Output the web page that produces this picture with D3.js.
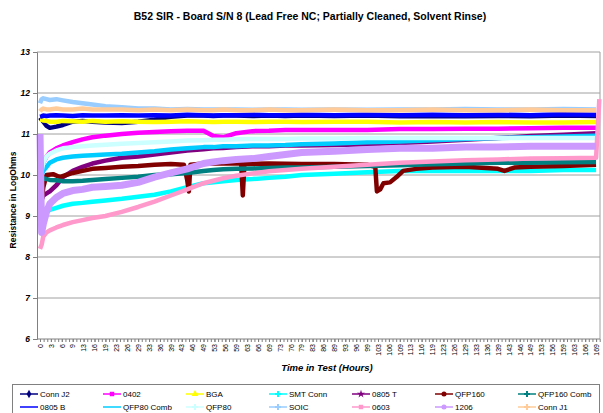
<!DOCTYPE html>
<html>
<head>
<meta charset="utf-8">
<script src="https://cdn.jsdelivr.net/npm/d3@7"></script>
<style>
body { margin: 0; background: #fff; }
text { font-family: "Liberation Sans", Arial, sans-serif; }
</style>
</head>
<body>
<script>
// hours shared by most series
var hours = [0, 0.5, 1, 2, 3, 5, 7, 10, 13, 16, 20, 25, 30, 35, 40, 45, 50, 53, 56, 60, 65, 70, 75, 80, 90, 100, 110, 120, 130, 140, 150, 160, 170];

var connJ2   = [11.4, 11.35, 11.3, 11.2, 11.15, 11.18, 11.22, 11.3, 11.32, 11.3, 11.28, 11.27, 11.3, 11.35, 11.42, 11.45, 11.45, 11.44, 11.45, 11.45, 11.44, 11.45, 11.44, 11.45, 11.44, 11.45, 11.43, 11.44, 11.43, 11.44, 11.43, 11.45, 11.44];
var s0402    = [10.1, 10.15, 10.3, 10.45, 10.55, 10.65, 10.72, 10.8, 10.87, 10.92, 10.96, 11.0, 11.03, 11.05, 11.07, 11.08, 11.08, 10.95, 10.92, 11.02, 11.07, 11.08, 11.1, 11.1, 11.1, 11.1, 11.12, 11.12, 11.13, 11.13, 11.14, 11.15, 11.15];
var bga      = [11.35, 11.35, 11.33, 11.32, 11.3, 11.3, 11.32, 11.31, 11.3, 11.32, 11.3, 11.31, 11.3, 11.29, 11.3, 11.31, 11.3, 11.29, 11.3, 11.3, 11.29, 11.3, 11.3, 11.29, 11.3, 11.3, 11.28, 11.29, 11.28, 11.29, 11.28, 11.28, 11.29];
var smtConn  = [9.6, 9.2, 9.05, 9.1, 9.15, 9.2, 9.25, 9.3, 9.32, 9.35, 9.38, 9.42, 9.47, 9.52, 9.6, 9.7, 9.8, 9.82, 9.85, 9.88, 9.9, 9.93, 9.96, 10.0, 10.03, 10.07, 10.1, 10.1, 10.1, 10.1, 10.1, 10.12, 10.12];
var s0805T   = [9.3, 9.4, 9.5, 9.55, 9.6, 9.75, 9.95, 10.1, 10.2, 10.28, 10.35, 10.42, 10.45, 10.5, 10.55, 10.6, 10.63, 10.65, 10.66, 10.68, 10.7, 10.7, 10.72, 10.72, 10.73, 10.75, 10.78, 10.82, 10.86, 10.9, 10.95, 10.98, 11.02];
var qfp160Comb = [10.0, 9.95, 9.92, 9.9, 9.88, 9.87, 9.85, 9.85, 9.86, 9.88, 9.9, 9.93, 9.96, 10.0, 10.02, 10.05, 10.1, 10.12, 10.14, 10.15, 10.16, 10.17, 10.18, 10.18, 10.2, 10.22, 10.24, 10.26, 10.28, 10.3, 10.3, 10.31, 10.32];
var s0805B   = [11.42, 11.43, 11.45, 11.44, 11.45, 11.46, 11.45, 11.44, 11.46, 11.45, 11.45, 11.46, 11.45, 11.46, 11.45, 11.47, 11.46, 11.45, 11.46, 11.46, 11.47, 11.46, 11.46, 11.47, 11.46, 11.47, 11.46, 11.47, 11.46, 11.47, 11.46, 11.48, 11.47];
var qfp80Comb = [9.9, 10.0, 10.1, 10.2, 10.3, 10.38, 10.42, 10.45, 10.47, 10.48, 10.5, 10.52, 10.55, 10.58, 10.62, 10.65, 10.68, 10.68, 10.7, 10.7, 10.72, 10.72, 10.73, 10.75, 10.77, 10.8, 10.82, 10.85, 10.88, 10.9, 10.92, 10.94, 10.96];
var qfp80    = [10.0, 10.1, 10.3, 10.45, 10.52, 10.6, 10.65, 10.68, 10.7, 10.72, 10.74, 10.76, 10.78, 10.8, 10.82, 10.84, 10.85, 10.86, 10.86, 10.87, 10.88, 10.88, 10.88, 10.89, 10.89, 10.9, 10.9, 10.9, 10.9, 10.9, 10.9, 10.9, 10.9];
var soic     = [11.75, 11.85, 11.87, 11.85, 11.83, 11.85, 11.82, 11.78, 11.75, 11.72, 11.68, 11.65, 11.62, 11.62, 11.6, 11.61, 11.6, 11.6, 11.6, 11.6, 11.59, 11.6, 11.6, 11.59, 11.6, 11.59, 11.6, 11.6, 11.61, 11.6, 11.6, 11.61, 11.6];
var s1206    = [11.0, 8.6, 8.8, 9.1, 9.3, 9.45, 9.55, 9.62, 9.65, 9.7, 9.72, 9.75, 9.82, 9.95, 10.05, 10.15, 10.28, 10.32, 10.35, 10.38, 10.4, 10.45, 10.5, 10.55, 10.58, 10.62, 10.65, 10.65, 10.68, 10.68, 10.7, 10.7, 10.7];
var connJ1   = [11.55, 11.6, 11.62, 11.6, 11.6, 11.62, 11.6, 11.6, 11.62, 11.6, 11.6, 11.6, 11.58, 11.6, 11.58, 11.6, 11.58, 11.58, 11.6, 11.58, 11.58, 11.6, 11.58, 11.58, 11.6, 11.58, 11.58, 11.6, 11.58, 11.58, 11.6, 11.58, 11.58];

// series with their own time points
var hours0603 = [0, 0.5, 1, 2, 3, 5, 7, 10, 13, 16, 20, 25, 30, 35, 40, 45, 50, 53, 56, 60, 65, 70, 75, 80, 90, 100, 110, 120, 130, 140, 150, 160, 170, 171];
var s0603     = [8.2, 8.3, 8.5, 8.6, 8.65, 8.72, 8.78, 8.85, 8.9, 8.95, 9.0, 9.1, 9.22, 9.35, 9.5, 9.65, 9.8, 9.86, 9.92, 9.98, 10.04, 10.09, 10.12, 10.15, 10.2, 10.25, 10.3, 10.33, 10.36, 10.38, 10.4, 10.41, 10.42, 11.85];

var hoursQfp160 = [0, 0.5, 1, 2, 4, 6, 8, 10, 13, 16, 20, 25, 30, 35, 40, 44, 45, 45.5, 46, 50, 55, 61.5, 62, 62.5, 70, 80, 90, 100, 102.5, 103, 104, 105, 107, 109, 111, 115, 120, 130, 140, 142, 145, 150, 160, 170];
var qfp160      = [9.3, 9.35, 9.7, 10.0, 10.02, 9.95, 10.0, 10.05, 10.1, 10.15, 10.17, 10.2, 10.22, 10.25, 10.27, 10.25, 9.88, 9.6, 10.25, 10.28, 10.28, 10.28, 9.5, 10.27, 10.28, 10.27, 10.27, 10.25, 10.2, 9.6, 9.65, 9.8, 9.82, 9.95, 10.1, 10.15, 10.18, 10.2, 10.15, 10.1, 10.18, 10.2, 10.22, 10.25];

var seriesNames  = ["Conn J2", "0402", "BGA", "SMT Conn", "0805 T", "QFP160", "QFP160 Comb", "0805 B", "QFP80 Comb", "QFP80", "SOIC", "0603", "1206", "Conn J1"];
var seriesColors = ["#000080", "#FF00FF", "#FFFF00", "#00FFFF", "#800080", "#800000", "#008080", "#0000FF", "#00CCFF", "#CCFFFF", "#99CCFF", "#FF99CC", "#CC99FF", "#FFCC99"];

var tickLabels = ["0", "3", "6", "9", "13", "16", "19", "23", "26", "29", "33", "36", "39", "43", "46", "49", "53", "56", "59", "63", "66", "69", "73", "76", "79", "83", "86", "89", "93", "96", "99", "103", "106", "109", "113", "116", "119", "123", "126", "129", "133", "136", "139", "143", "146", "149", "153", "156", "159", "163", "166", "169"];

var series = [
  {x: hours, y: connJ2}, {x: hours, y: s0402}, {x: hours, y: bga}, {x: hours, y: smtConn},
  {x: hours, y: s0805T}, {x: hoursQfp160, y: qfp160}, {x: hours, y: qfp160Comb}, {x: hours, y: s0805B},
  {x: hours, y: qfp80Comb}, {x: hours, y: qfp80}, {x: hours, y: soic}, {x: hours0603, y: s0603},
  {x: hours, y: s1206}, {x: hours, y: connJ1}
];
var symbolTypes = [d3.symbolDiamond, d3.symbolSquare, d3.symbolTriangle, d3.symbolCross, d3.symbolStar, d3.symbolCircle, d3.symbolCross,
                   null, null, d3.symbolCross, d3.symbolCross, d3.symbolSquare, d3.symbolCircle, d3.symbolCross];

var W = 603, H = 413;
var pLeft = 37, pRight = 600, pTop = 52, pBottom = 339;

var svg = d3.select("body").append("svg")
    .attr("width", W)
    .attr("height", H);

var x = d3.scaleLinear().domain([0, 171.2]).range([40, 600]);
var y = d3.scaleLinear().domain([6, 13]).range([pBottom, pTop]);

// title
svg.append("text")
    .attr("x", 310).attr("y", 20)
    .attr("text-anchor", "middle")
    .style("font-size", "10.5px").style("font-weight", "bold")
    .text("B52 SIR - Board S/N 8 (Lead Free NC; Partially Cleaned, Solvent Rinse)");

// gridlines
svg.append("g")
  .selectAll("line")
  .data(d3.range(7, 14))
  .enter().append("line")
    .attr("x1", pLeft).attr("x2", pRight)
    .attr("y1", function(d) { return y(d); })
    .attr("y2", function(d) { return y(d); })
    .attr("stroke", "#a0a0a0");

svg.append("line")
    .attr("x1", pRight).attr("x2", pRight).attr("y1", pTop).attr("y2", pBottom)
    .attr("stroke", "#a0a0a0");

// lines
var plot = svg.append("g");
series.forEach(function(s, i) {
  var pts = s.x.map(function(h, k) { return [h, s.y[k]]; });
  var line = d3.line()
      .x(function(d) { return x(d[0]); })
      .y(function(d) { return y(d[1]); });
  plot.append("path")
      .attr("d", line(pts))
      .attr("fill", "none")
      .attr("stroke", seriesColors[i])
      .attr("stroke-width", i == 12 ? 7 : 4.5)
      .attr("stroke-linejoin", "round");
});

// y axis
var yAxis = svg.append("g")
    .attr("transform", "translate(" + pLeft + ",0)")
    .call(d3.axisLeft(y).ticks(7).tickSize(4).tickFormat(d3.format("d")));
yAxis.select(".domain").attr("stroke", "#808080");
yAxis.selectAll(".tick line").attr("stroke", "#808080");
yAxis.selectAll(".tick text")
    .style("font-size", "8.5px").style("font-weight", "bold").style("font-style", "italic")
    .style("font-family", "'Liberation Sans', Arial, sans-serif");

// x axis (category style labels)
var xi = d3.scaleLinear().domain([0, tickLabels.length - 1]).range([x(0), x(170)]);
svg.append("line")
    .attr("x1", pLeft).attr("x2", pRight).attr("y1", pBottom).attr("y2", pBottom)
    .attr("stroke", "#808080");
var xMinor = svg.append("g")
    .attr("transform", "translate(0," + pBottom + ")")
    .call(d3.axisBottom(xi).tickValues(d3.range(0, tickLabels.length - 0.5, 1 / 3)).tickSize(3).tickFormat(""));
xMinor.select(".domain").remove();
xMinor.selectAll(".tick line").attr("stroke", "#808080");

var xAxis = svg.append("g")
    .attr("transform", "translate(0," + pBottom + ")")
    .call(d3.axisBottom(xi).tickValues(d3.range(tickLabels.length)).tickSize(3)
      .tickFormat(function(i) { return tickLabels[i]; }));
xAxis.select(".domain").remove();
xAxis.selectAll(".tick line").attr("stroke", "#808080");
xAxis.selectAll(".tick text")
    .attr("transform", "rotate(-90)")
    .attr("x", -5).attr("y", 0).attr("dy", "0.32em")
    .style("text-anchor", "end")
    .style("font-size", "7px")
    .style("font-family", "'Liberation Sans', Arial, sans-serif");

// axis titles
svg.append("text")
    .attr("x", 327).attr("y", 371)
    .attr("text-anchor", "middle")
    .style("font-size", "9.5px").style("font-weight", "bold").style("font-style", "italic")
    .text("Time in Test (Hours)");

svg.append("text")
    .attr("transform", "translate(16,200) rotate(-90)")
    .attr("text-anchor", "middle")
    .style("font-size", "8.5px").style("font-weight", "bold")
    .text("Resistance in LogOhms");

// legend
var legend = svg.append("g");
legend.append("rect")
    .attr("x", 12.5).attr("y", 384.5).attr("width", 587).attr("height", 40)
    .attr("fill", "#fff").attr("stroke", "#808080");

seriesNames.forEach(function(name, i) {
  var col = i % 7, row = Math.floor(i / 7);
  var g = legend.append("g")
      .attr("transform", "translate(" + (20 + col * 83) + "," + (394 + row * 13) + ")");
  g.append("line")
      .attr("x1", 0).attr("x2", 18).attr("y1", 0).attr("y2", 0)
      .attr("stroke", seriesColors[i]).attr("stroke-width", 1.5);
  if (symbolTypes[i]) {
    g.append("path")
        .attr("transform", "translate(9,0)")
        .attr("d", d3.symbol().type(symbolTypes[i]).size(20)())
        .attr("fill", seriesColors[i]);
  }
  g.append("text")
      .attr("x", 20).attr("y", 3)
      .style("font-size", "8px")
      .text(name);
});
</script>
</body>
</html>
